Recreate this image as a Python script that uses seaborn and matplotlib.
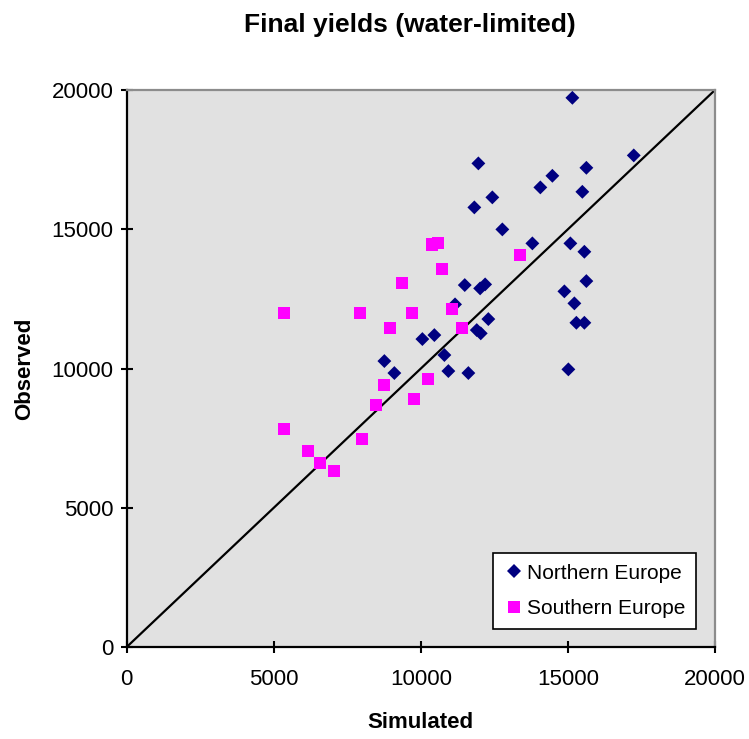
import matplotlib
matplotlib.use("Agg")
import matplotlib.pyplot as plt
import seaborn as sns
import pandas as pd

# Simulated vs observed final yields (water-limited runs)
north_sim = [11955, 12430, 11818, 12770, 11492, 12015, 12185, 11162, 12294, 11900,
             12036, 10051, 10459, 10800, 8759, 9099, 10935, 11615, 15151, 17238,
             15627, 14471, 14062, 15490, 13791, 15083, 15559, 15627, 14879, 15219,
             15287, 15559, 15015]
north_obs = [17365, 16145, 15785, 14995, 12996, 12877, 13020, 12303, 11775, 11380,
             11262, 11057, 11200, 10483, 10267, 9837, 9908, 9837, 19720, 17652,
             17207, 16920, 16503, 16345, 14493, 14493, 14192, 13139, 12770, 12339,
             11642, 11642, 9969]

south_sim = [10390, 10594, 13372, 10720, 9360, 11060, 5358, 7942, 9700, 8962,
             11400, 10244, 8748, 9768, 8487, 5358, 8010, 6175, 6583, 7059]
south_obs = [14457, 14504, 14073, 13570, 13080, 12145, 12001, 12001, 12001, 11450,
             11450, 9632, 9417, 8914, 8699, 7837, 7478, 7047, 6616, 6329]

regions = ["Northern Europe", "Southern Europe"]
ticks = [0, 5000, 10000, 15000, 20000]

df = pd.DataFrame({
    "Simulated": north_sim + south_sim,
    "Observed": north_obs + south_obs,
    "Region": [regions[0]] * len(north_sim) + [regions[1]] * len(south_sim),
})

sns.set_theme(style="white")
plt.rcParams["font.family"] = ["Liberation Sans", "DejaVu Sans"]
plt.rcParams["text.color"] = "black"
plt.rcParams["axes.labelcolor"] = "black"
plt.rcParams["xtick.color"] = "black"
plt.rcParams["ytick.color"] = "black"

fig = plt.figure(figsize=(7.49, 7.39), dpi=100)
ax = fig.add_axes([0.1692, 0.1245, 0.7854, 0.7537])
ax.set_facecolor("#E1E1E1")

# 1:1 reference line
ax.plot([0, 20000], [0, 20000], color="black", lw=1.6, zorder=1)

sns.scatterplot(
    data=df, x="Simulated", y="Observed", hue="Region", style="Region",
    hue_order=regions, style_order=regions,
    palette={regions[0]: "#000080", regions[1]: "#FF00FF"},
    markers={regions[0]: "D", regions[1]: "s"},
    size="Region", sizes={regions[0]: 50, regions[1]: 78},
    linewidth=0, ax=ax, zorder=3, legend="full",
)

ax.set_xlim(0, 20000)
ax.set_ylim(0, 20000)
ax.set_xticks(ticks)
ax.set_yticks(ticks)
ax.set_xticklabels([str(t) for t in ticks])
ax.set_yticklabels([str(t) for t in ticks])
ax.tick_params(axis="both", direction="inout", length=9, width=1.5,
               labelsize=16, color="black", labelcolor="black", pad=5,
               left=True, bottom=True)
ax.tick_params(axis="x", pad=11)

for side in ["left", "bottom"]:
    ax.spines[side].set_color("black")
    ax.spines[side].set_linewidth(1.6)
for side in ["top", "right"]:
    ax.spines[side].set_visible(True)
    ax.spines[side].set_color("#8C8C8C")
    ax.spines[side].set_linewidth(1.6)

ax.set_xlabel("Simulated", fontsize=16, fontweight="bold", labelpad=16)
ax.set_ylabel("Observed", fontsize=16, fontweight="bold", labelpad=12)
title = ax.set_title("Final yields (water-limited)", fontsize=19, fontweight="bold",
                     pad=42, color="black")
title.set_x(0.482)

leg = ax.legend(loc="lower right", bbox_to_anchor=(0.967, 0.033), frameon=True,
                fancybox=False, edgecolor="black", facecolor="white",
                framealpha=1, fontsize=15, handletextpad=0.1, borderpad=0.5,
                labelspacing=0.8, handlelength=1.0, borderaxespad=0)
leg.get_frame().set_linewidth(1.2)
for t in leg.get_texts():
    t.set_color("black")

fig.savefig("out.png", dpi=100)
